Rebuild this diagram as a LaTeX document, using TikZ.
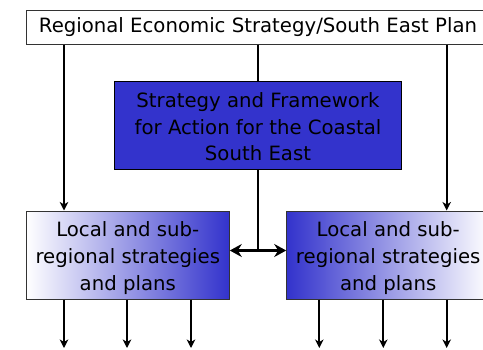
\documentclass[tikz,border=0pt]{standalone}
\usepackage{fontspec}
\setmainfont{DejaVu Sans}
\usetikzlibrary{arrows.meta}
\definecolor{planblue}{HTML}{3333CC}
\definecolor{edgegray}{HTML}{333333}
\tikzset{
  txt/.style={font={\fontsize{19.7}{26.7}\selectfont}, align=center, text=black},
  plainbox/.style={draw=edgegray, line width=1pt, fill=white, inner sep=0pt, txt},
  bluebox/.style={draw=black, line width=1pt, fill=planblue, inner sep=0pt, txt},
  fadeR/.style={draw=edgegray, line width=1pt, left color=white, right color=planblue, inner sep=0pt},
  fadeL/.style={draw=edgegray, line width=1pt, left color=planblue, right color=white, inner sep=0pt},
  boxtext/.style={txt, inner sep=0pt, yshift=-3pt},
  link/.style={line width=2pt, draw=black},
  feed/.style={link, -{Stealth[length=8.5pt,width=8.5pt,inset=2.5pt]}},
  swap/.style={line width=2.6pt, draw=black, {Stealth[length=12pt,width=13pt,inset=4pt]}-{Stealth[length=12pt,width=13pt,inset=4pt]}}
}
\begin{document}
\begin{tikzpicture}[x=1pt, y=-1pt]
  \useasboundingbox (0,0) rectangle (483,349);
  \clip (0,0) rectangle (483,349);

  % boxes
  \node[plainbox, minimum width=463.4pt, minimum height=34pt] (res) at (258,27) {Regional Economic Strategy/South East Plan};
  \node[bluebox, minimum width=287.4pt, minimum height=88.3pt,
        label={[txt, inner sep=0pt, yshift=-1.5pt]center:{Strategy and Framework\\for Action for the Coastal\\South East}}] (sfa) at (258,125.2) {};
  \node[fadeR, minimum width=203pt, minimum height=88pt,
        label={[boxtext]center:{Local and sub-\\regional strategies\\and plans}}] (lsl) at (127.8,255) {};
  \node[fadeL, minimum width=203pt, minimum height=88pt,
        label={[boxtext]center:{Local and sub-\\regional strategies\\and plans}}] (lsr) at (388.2,255) {};

  % fixed points on the connectors
  \coordinate (hub) at (257.7,250.5);
  \coordinate (colL) at (64,0);
  \coordinate (colR) at (446.7,0);
  \foreach \n/\x in {l1/64, l2/127, l3/191, r1/319.3, r2/383.3, r3/446.7}
    \coordinate (\n) at (\x,348);

  % connectors from the regional plan
  \draw[feed] (res.south -| colL) -- (lsl.north -| colL);
  \draw[feed] (res.south -| colR) -- (lsr.north -| colR);
  \draw[link] (res.south -| hub) -- (sfa.north -| hub);
  \draw[link] (sfa.south -| hub) -- (hub);
  \draw[swap] (lsl.east |- hub) -- (lsr.west |- hub);

  % outputs of the local strategies
  \foreach \n in {l1,l2,l3}
    \draw[feed] (lsl.south -| \n) -- (\n);
  \foreach \n in {r1,r2,r3}
    \draw[feed] (lsr.south -| \n) -- (\n);
\end{tikzpicture}
\end{document}
